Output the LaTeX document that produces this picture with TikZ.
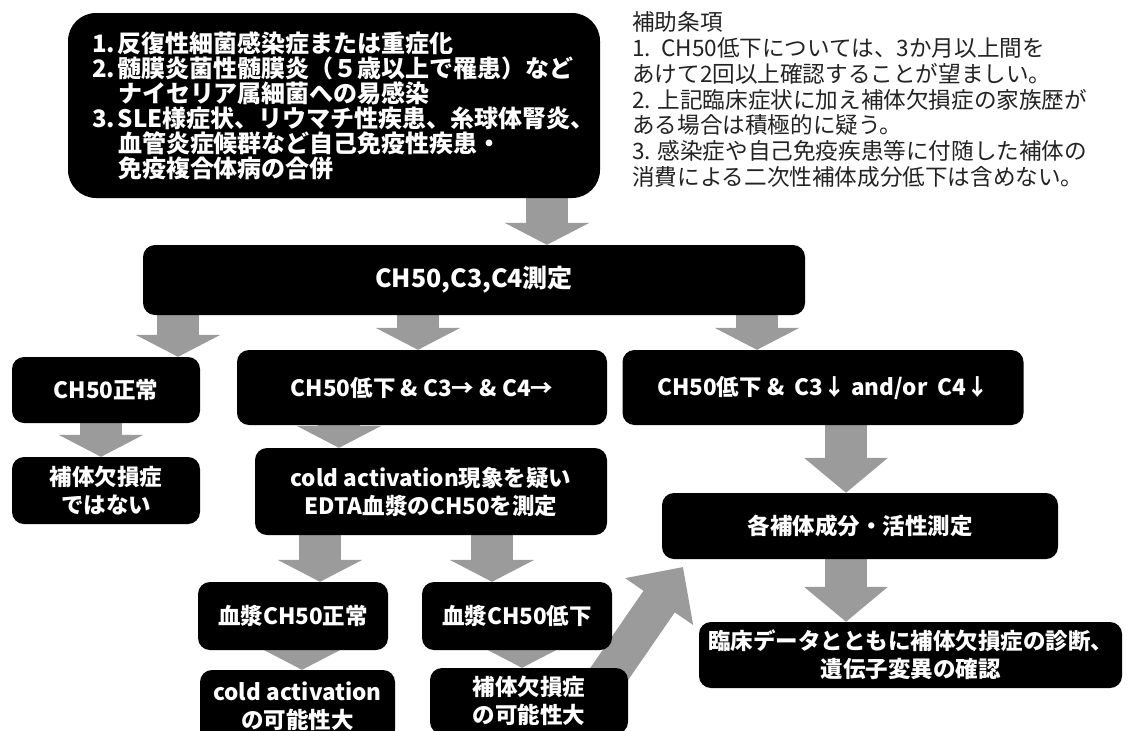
\documentclass[tikz,border=0pt]{standalone}
\usepackage{fontspec}
\setmainfont{Noto Sans CJK JP}
\usetikzlibrary{arrows.meta,backgrounds,calc}
\definecolor{arrowgray}{RGB}{155,155,155}
\definecolor{notegray}{RGB}{35,35,35}
\begin{document}
\begin{tikzpicture}[x=1pt,y=-1pt,
  box/.style={fill=black, rounded corners=12pt, text=white, inner sep=0pt, align=center,
    font=\bfseries\fontsize{22.5}{28}\selectfont},
  blk/.style={draw=arrowgray, line width=42pt, -{Triangle[length=22pt,width=84pt]}},
  blklong/.style={draw=arrowgray, line width=42pt, -{Triangle[length=35pt,width=82pt]}}]
\useasboundingbox (0,0) rectangle (1128,731);

% boxes
\node[box, rounded corners=28pt, minimum width=532pt, minimum height=185pt, text width=484pt, align=left,
  font=\bfseries\fontsize{24}{25}\selectfont] (top) at (334,105.5)
  {\makebox[26pt][l]{1.}反復性細菌感染症または重症化\\
   \makebox[26pt][l]{2.}髄膜炎菌性髄膜炎（５歳以上で罹患）など\\
   \hspace*{26pt}ナイセリア属細菌への易感染\\
   \makebox[26pt][l]{3.}SLE様症状、リウマチ性疾患、糸球体腎炎、\\
   \hspace*{26pt}血管炎症候群など自己免疫性疾患・\\
   \hspace*{26pt}免疫複合体病の合併};

\node[anchor=west, align=left, inner sep=0pt, text=notegray, font=\fontsize{22.6}{25.8}\selectfont] (note) at (632,99.5)
  {補助条項\\
   1.\ \ CH50低下については、3か月以上間を\\
   あけて2回以上確認することが望ましい。\\
   2. 上記臨床症状に加え補体欠損症の家族歴が\\
   ある場合は積極的に疑う。\\
   3. 感染症や自己免疫疾患等に付随した補体の\\
   消費による二次性補体成分低下は含めない。};

\node[box, minimum width=662pt, minimum height=70pt, font=\bfseries\fontsize{25}{30}\selectfont] (ch) at (474,280) {CH50,C3,C4測定};

\node[box, minimum width=188pt, minimum height=66pt] (n1) at (106,390) {CH50正常};
\node[box, minimum width=370pt, minimum height=75pt] (n2) at (422,387.5) {CH50低下 \& C3→ \& C4→};
\node[box, minimum width=401pt, minimum height=75pt] (n3) at (823,387.5) {CH50低下 \&\ \ C3↓ and/or\ \ C4↓};

\node[box, minimum width=188pt, minimum height=67pt] (r1) at (106,490.5) {補体欠損症\\ではない};
\node[box, minimum width=352pt, minimum height=87pt] (cold) at (431,491.5) {cold activation現象を疑い\\EDTA血漿のCH50を測定};
\node[box, minimum width=396pt, minimum height=66pt] (comp) at (860,526) {各補体成分・活性測定};

\node[box, minimum width=190pt, minimum height=68pt] (p1) at (293,616) {血漿CH50正常};
\node[box, minimum width=190pt, minimum height=68pt] (p2) at (517,616) {血漿CH50低下};
\node[box, minimum width=423pt, minimum height=66pt] (clin) at (910.5,655) {臨床データとともに補体欠損症の診断、\\遺伝子変異の確認};

\node[box, minimum width=195pt, minimum height=72pt] (b1) at (297.5,706) {cold activation\\の可能性大};
\node[box, minimum width=198pt, minimum height=66pt] (b2) at (529,701) {補体欠損症\\の可能性大};

% arrow columns
\coordinate (xa) at (547,0);
\coordinate (xb) at (178,0);
\coordinate (xc) at (418,0);
\coordinate (xd) at (757,0);
\coordinate (xe) at (101,0);
\coordinate (xf) at (339,0);
\coordinate (xg) at (846,0);
\coordinate (xh) at (320,0);
\coordinate (xi) at (492,0);
\coordinate (xj) at (302,0);
\coordinate (xk) at (522,0);
\coordinate (diagtail) at (583,712);
\coordinate (diagtip) at (683,567);

\begin{scope}[on background layer]
\fill[white] (0,0) rectangle (1128,731);
\draw[blk] (top.south -| xa) -- (ch.north -| xa);
\draw[blk] (ch.south -| xb) -- (n1.north -| xb);
\draw[blk] (ch.south -| xc) -- (n2.north -| xc);
\draw[blk] (ch.south -| xd) -- (n3.north -| xd);
\draw[blk] (n1.south -| xe) -- (r1.north -| xe);
\draw[blk] (n2.south -| xf) -- (cold.north -| xf);
\draw[blklong] (n3.south -| xg) -- (comp.north -| xg);
\draw[blk] (cold.south -| xh) -- (p1.north -| xh);
\draw[blk] (cold.south -| xi) -- (p2.north -| xi);
\draw[blklong] (comp.south -| xg) -- (clin.north -| xg);
\draw[blk] (p1.south -| xj) -- (b1.north -| xj);
\draw[blk] (p2.south -| xk) -- (b2.north -| xk);
\draw[draw=arrowgray, line width=38pt, -{Triangle[length=42pt,width=80pt]}] (diagtail) -- (diagtip);
\end{scope}
\end{tikzpicture}
\end{document}
